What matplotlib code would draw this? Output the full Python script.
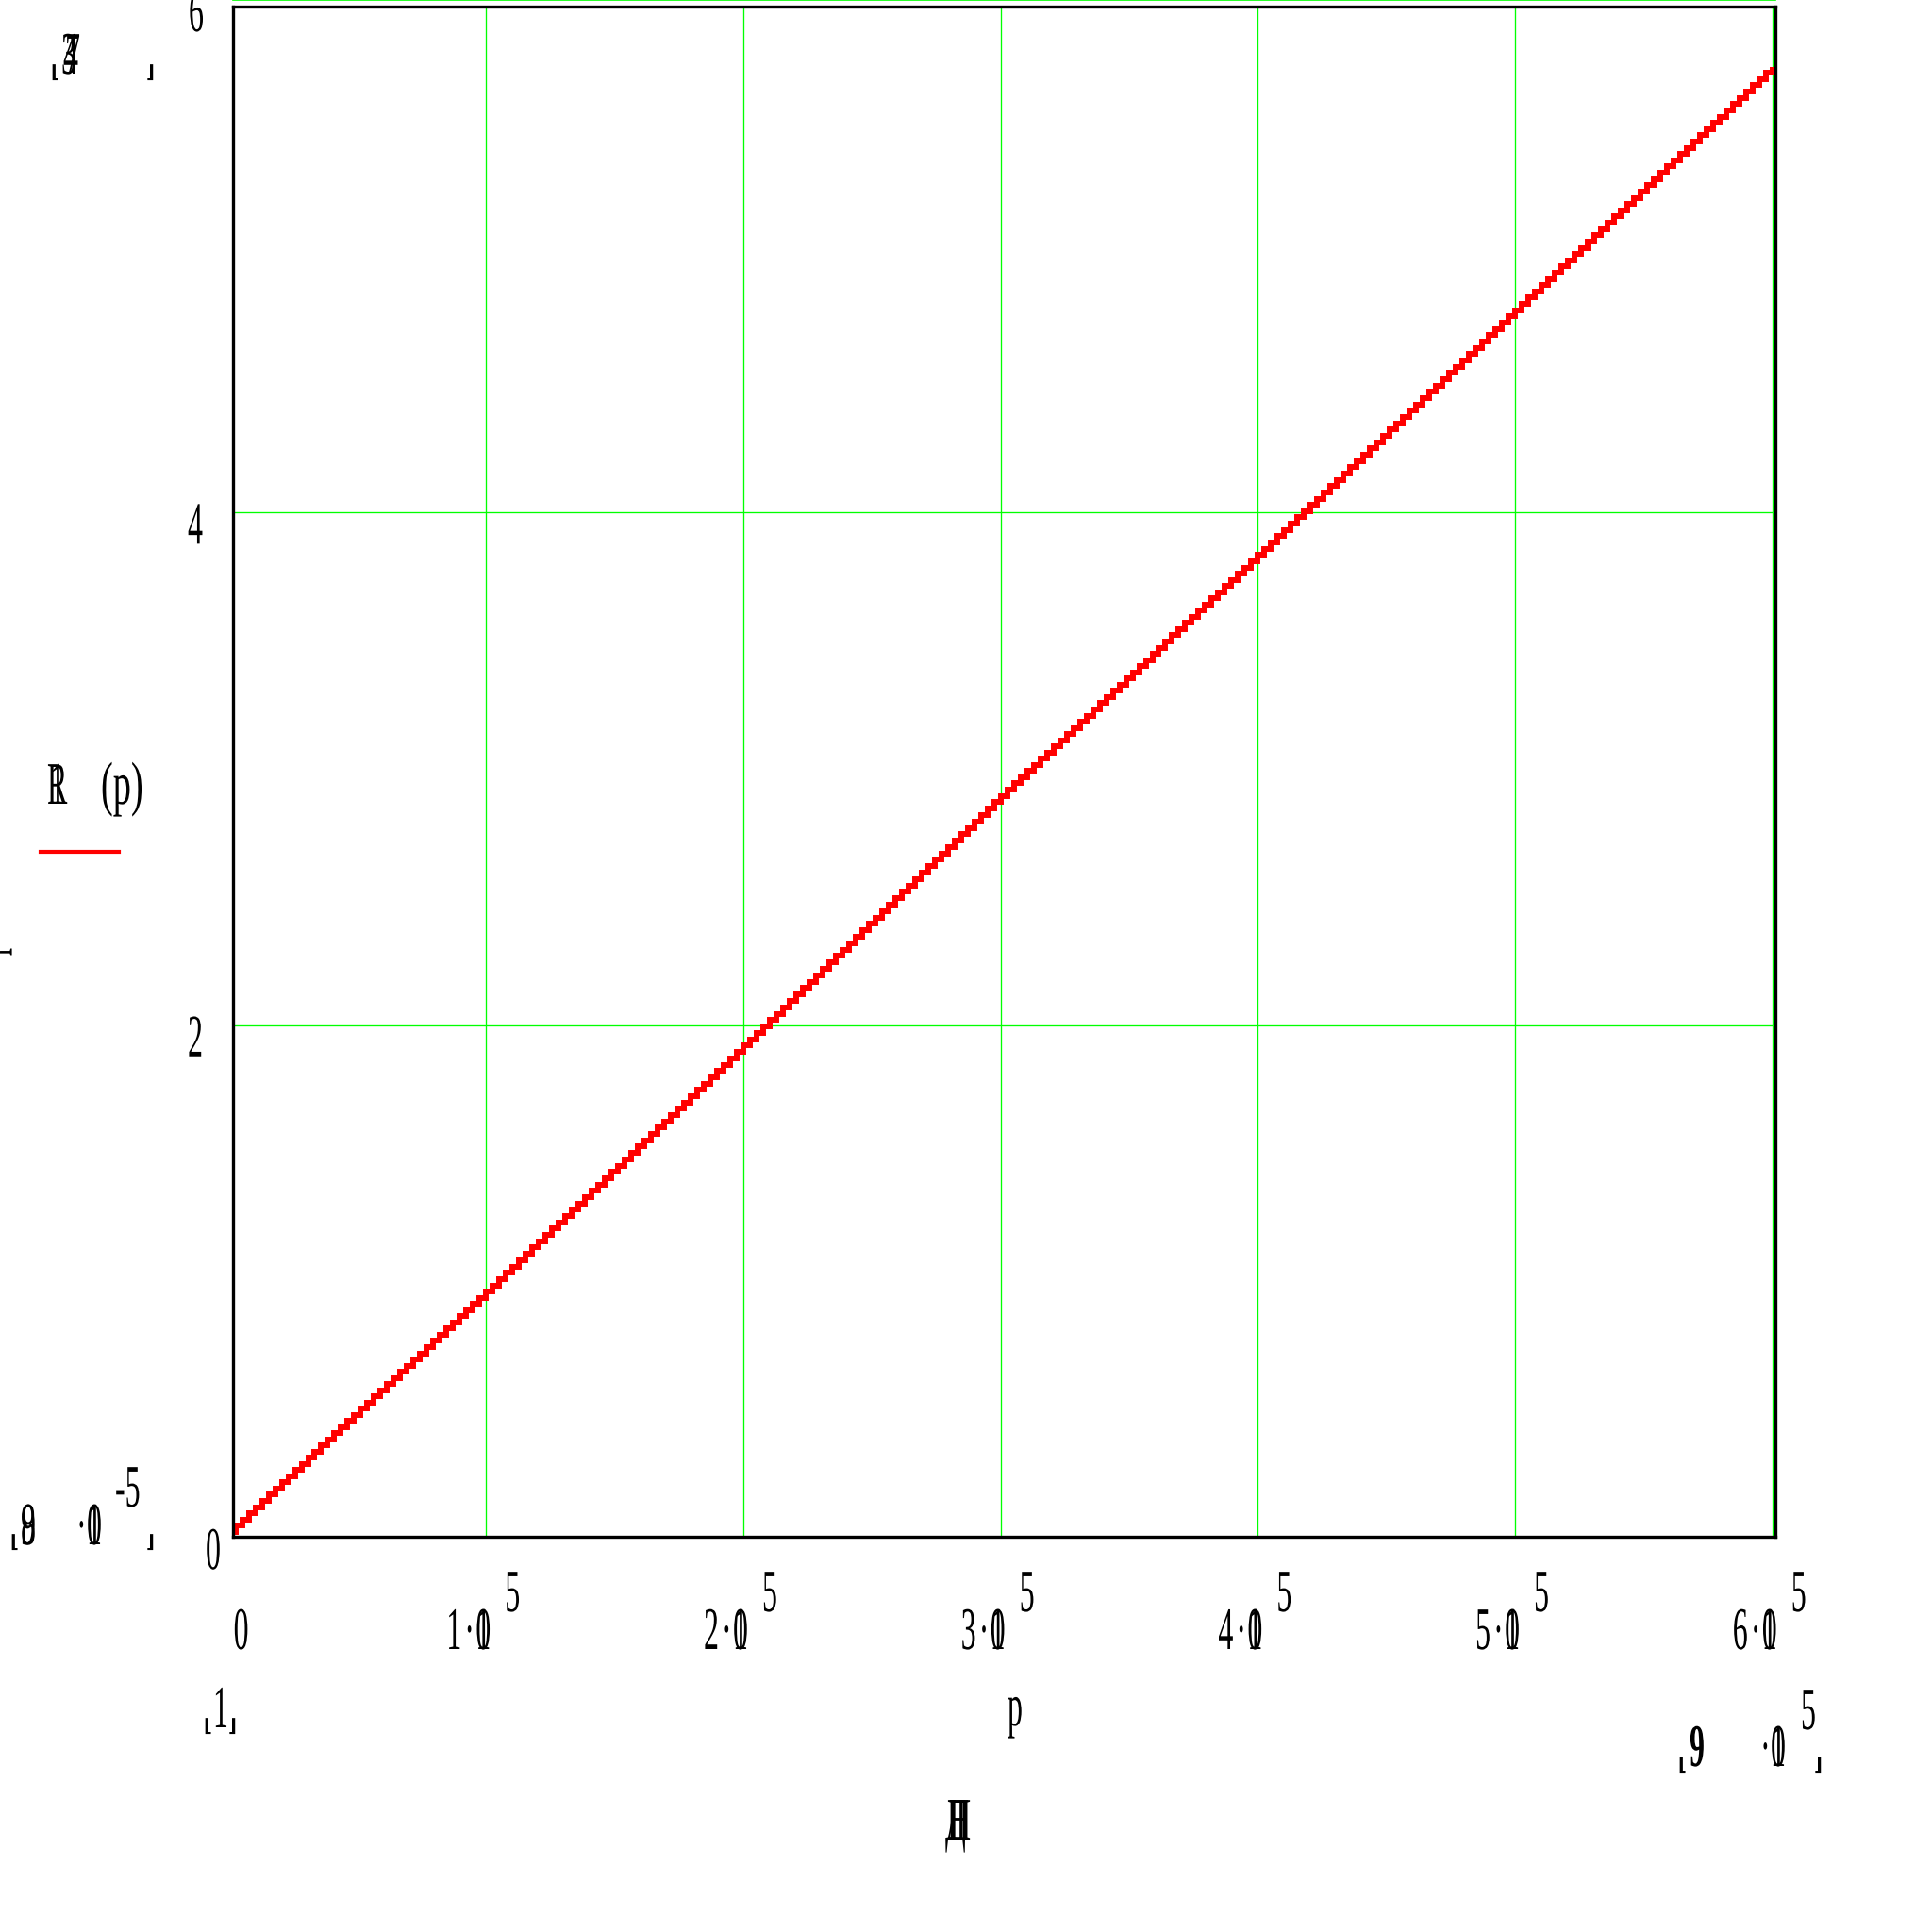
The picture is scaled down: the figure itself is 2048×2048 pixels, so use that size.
import numpy as np
import matplotlib
matplotlib.use("Agg")
import matplotlib.pyplot as plt
from matplotlib import font_manager
from matplotlib.patheffects import AbstractPathEffect
from matplotlib.transforms import Affine2D, IdentityTransform
from matplotlib.path import Path
from matplotlib.lines import Line2D

# ---------------- data ----------------
p_values = [0, 1e5, 2e5, 3e5, 4e5, 5e5, 6e5]
R_values = [0.024, 0.96, 1.92, 2.895, 3.834, 4.79, 5.74]

x_grid = [1e5, 2e5, 3e5, 4e5, 5e5, 6e5]
y_grid = [2, 4]
y_top_grid = 6

x_tick_values = [1e5, 2e5, 3e5, 4e5, 5e5, 6e5]
x_tick_digits = ["1", "2", "3", "4", "5", "6"]
x_tick_exponent = "5"
y_tick_values = [0, 2, 4, 6]
y_tick_labels = ["0", "2", "4", "6"]

legend_name = ["R", "1"]
legend_arg = "(p)"
x_label = "p"
y_label = "p"

# ---------------- fonts ----------------
avail = {f.name for f in font_manager.fontManager.ttflist}
SERIF = next((f for f in ["Liberation Serif", "DejaVu Serif"] if f in avail), "DejaVu Serif")


class Squeeze(AbstractPathEffect):
    """Narrow the glyphs horizontally (condensed look of the original)."""
    def __init__(self, sx):
        super().__init__()
        self.sx = sx

    def draw_path(self, renderer, gc, tpath, affine, rgbFace=None):
        renderer.draw_path(gc, tpath, Affine2D().scale(self.sx, 1.0) + affine, rgbFace)


class Stairs(AbstractPathEffect):
    """Render a line as a pixel staircase (step trace look)."""
    def __init__(self, step=7.0):
        super().__init__()
        self.step = step

    def draw_path(self, renderer, gc, tpath, affine, rgbFace=None):
        v = affine.transform(tpath.vertices)
        pts = [v[0]]
        for a, b in zip(v[:-1], v[1:]):
            n = max(1, int(round(abs(b[0] - a[0]) / self.step)))
            for k in range(1, n + 1):
                xk = a[0] + (b[0] - a[0]) * k / n
                y0 = a[1] + (b[1] - a[1]) * (k - 1) / n
                y1 = a[1] + (b[1] - a[1]) * k / n
                pts.append((xk, y0))
                pts.append((xk, y1))
        path = Path(np.asarray(pts))
        path.should_simplify = False
        renderer.draw_path(gc, path, IdentityTransform(), rgbFace)


W = H = 2048
fig = plt.figure(figsize=(20.48, 20.48), dpi=100)
fig.patch.set_facecolor("white")

# axes box (pixels from top): left 246.5, right 1881.5, top 7.3, bottom 1628.5
L, R_, T, B = 246.5, 1881.5, 7.3, 1628.5
ax = fig.add_axes([L / W, 1 - B / H, (R_ - L) / W, (B - T) / H])
ax.set_xlim(1.43e3, 6.01e5)
ax.set_ylim(0.006, 5.973)

GREEN = "#00ff00"
ax.set_xticks(x_grid)
ax.set_yticks(y_grid)
ax.grid(True, color=GREEN, linewidth=0.95)
ax.axhline(y_top_grid, color=GREEN, linewidth=1.2, clip_on=False, zorder=1)
ax.tick_params(length=0, labelbottom=False, labelleft=False)
for s in ax.spines.values():
    s.set_linewidth(2.4)
    s.set_color("black")
    s.set_zorder(4)
ax.set_axisbelow(True)

ax.plot(p_values, R_values, color="#ff0000", linewidth=4.3,
        solid_joinstyle="miter", solid_capstyle="butt",
        path_effects=[Stairs(7.0)], zorder=3)

SIZE = 46
SX = 0.5


def put(x, y, s, size=SIZE, sx=SX, weight="normal", family=None, rot=0):
    fig.text(x / W, 1 - y / H, s, ha="left", va="baseline", fontsize=size,
             fontweight=weight, family=family or SERIF, rotation=rot,
             rotation_mode="anchor",
             path_effects=[Squeeze(sx)] if sx != 1 else [])


def bracket(x, bottom, which):
    ch = "\u230a" if which == "l" else "\u230b"
    fig.text((x - 2) / W, 1 - (bottom - 2.5) / H, ch, ha="left", va="baseline",
             fontsize=14, fontweight="bold", family="DejaVu Sans")


fig.canvas.draw()


def xpix(v):
    return ax.transData.transform((v, 0))[0]


def ypix(v):
    return H - ax.transData.transform((0, v))[1]


# y tick labels
y_lefts = [218, 199, 199, 200]
for v, lab, xl in zip(y_tick_values, y_tick_labels, y_lefts):
    put(xl, ypix(v) + 33, lab)

# x tick labels
put(xpix(0) + 5, 1748, "0")
for v, d in zip(x_tick_values, x_tick_digits):
    gx = xpix(v)
    put(gx - 42, 1748, d)
    put(gx - 23, 1748, "·")
    put(gx - 11, 1748, "1")
    put(gx - 11, 1748, "0")
    put(gx + 20, 1708, x_tick_exponent)

# x axis label and range markers
put(1068, 1829, x_label)
put(226, 1831, "1")
bracket(217, 1838, "l")
bracket(244, 1838, "r")

# bottom-right range marker  9·10^5
bracket(1780, 1879, "l")
put(1791, 1872, "9", weight="bold")
put(1866, 1872, "·")
put(1877, 1872, "1")
put(1877, 1872, "0")
put(1909, 1833, "5")
bracket(1925, 1879, "r")

# bottom-left range marker  9·10^-5
bracket(12, 1643, "l")
put(22, 1637, "8")
put(22, 1637, "9")
put(81, 1637, "·")
put(92, 1637, "1")
put(92, 1637, "0")
put(122, 1597, "-5")
bracket(157, 1643, "r")

# top-left range marker
bracket(55, 85, "l")
for xl, d in zip([65, 67, 69], ["3", "4", "7"]):
    put(xl, 78, d)
bracket(157, 85, "r")

# legend
for xl, s in zip([50, 53], legend_name):
    put(xl, 852, s)
put(107, 852, legend_arg, sx=0.6)
fig.add_artist(Line2D([43 / W, 126 / W], [1 - 903 / H, 1 - 903 / H],
                      color="#ff0000", linewidth=3.0, transform=fig.transFigure))

# y axis label (mostly off the left edge)
put(-1, 1013, y_label, rot=90)

# bottom centre unit label (overlapping Cyrillic glyphs)
for xl, s in zip([1002, 1004, 1006], ["Д", "Н", "П"]):
    put(xl, 1950, s)

fig.savefig("out.png", dpi=100, facecolor="white")
